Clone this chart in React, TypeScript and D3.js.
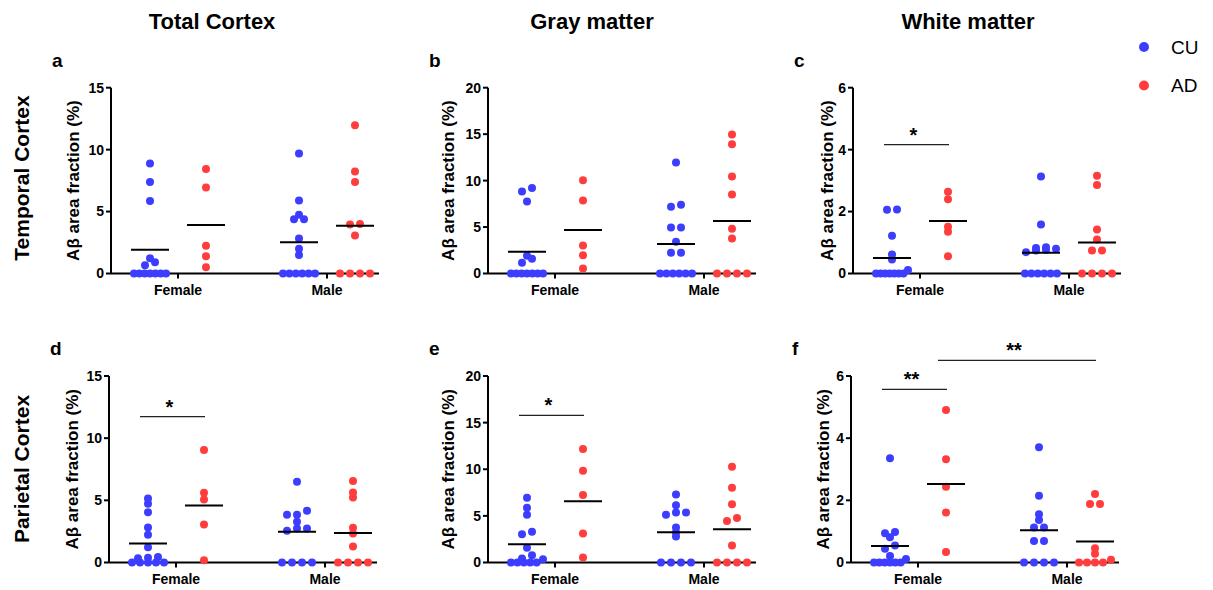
import React from "react";
import * as d3 from "d3";

const groups = ["Female", "Male"];
const conditions = ["CU", "AD"];
const conditionColors = ["#3d3dff", "#ff3d3d"];
const columnTitles = ["Total Cortex", "Gray matter", "White matter"];
const rowTitles = ["Temporal Cortex", "Parietal Cortex"];

// a: temporal, total cortex
const aFemaleCU = [8.88, 7.38, 5.85, 1.23, 0.91, 0.67, 0, 0, 0, 0, 0, 0, 0];
const aFemaleAD = [8.43, 6.95, 2.25, 1.4, 0.51];
const aMaleCU = [9.69, 5.9, 4.75, 4.37, 4.37, 2.82, 1.99, 1.5, 0, 0, 0, 0, 0, 0];
const aMaleAD = [11.97, 8.24, 7.38, 4.0, 3.95, 3.06, 0, 0, 0, 0];

// b: temporal, gray matter
const bFemaleCU = [9.19, 8.83, 7.76, 1.9, 1.58, 1.15, 0, 0, 0, 0, 0, 0, 0];
const bFemaleAD = [10.05, 7.86, 3.02, 1.97, 0.54];
const bMaleCU = [11.96, 7.4, 7.18, 4.96, 4.96, 3.41, 2.23, 2.23, 0, 0, 0, 0, 0, 0];
const bMaleAD = [14.97, 13.9, 10.45, 8.51, 4.81, 3.77, 0, 0, 0, 0];

// c: temporal, white matter
const cFemaleCU = [2.07, 2.06, 1.22, 0.61, 0.45, 0.11, 0, 0, 0, 0, 0, 0, 0];
const cFemaleAD = [2.64, 2.4, 1.51, 1.35, 0.56];
const cMaleCU = [3.13, 1.58, 0.85, 0.82, 0.8, 0.77, 0.74, 0.69, 0, 0, 0, 0, 0, 0];
const cMaleAD = [3.16, 2.86, 1.42, 1.1, 0.74, 0.74, 0, 0, 0, 0];

// d: parietal, total cortex
const dFemaleCU = [5.15, 4.72, 4.05, 2.82, 2.23, 1.23, 0.45, 0.38, 0.35, 0, 0, 0, 0, 0];
const dFemaleAD = [9.04, 5.61, 5.07, 3.06, 0.19];
const dMaleCU = [6.49, 4.16, 3.84, 3.84, 3.27, 2.74, 2.74, 2.55, 0, 0, 0, 0];
const dMaleAD = [6.55, 5.63, 5.23, 2.79, 2.33, 1.29, 0, 0, 0, 0];

// e: parietal, gray matter
const eFemaleCU = [6.94, 5.87, 5.12, 3.29, 3.04, 1.57, 0.79, 0.43, 0.36, 0, 0, 0, 0, 0];
const eFemaleAD = [12.16, 9.84, 7.23, 3.11, 0.54];
const eMaleCU = [7.3, 6.15, 5.37, 5.37, 5.12, 3.76, 3.22, 2.79, 0, 0, 0, 0];
const eMaleAD = [10.27, 8.01, 6.26, 4.76, 4.44, 1.82, 0, 0, 0, 0];

// f: parietal, white matter
const fFemaleCU = [3.35, 0.98, 0.94, 0.81, 0.55, 0.44, 0.21, 0.11, 0, 0, 0, 0, 0, 0];
const fFemaleAD = [4.91, 3.32, 2.44, 1.61, 0.34];
const fMaleCU = [3.71, 2.15, 1.55, 1.37, 1.13, 1.13, 0.69, 0.69, 0, 0, 0, 0];
const fMaleAD = [2.2, 1.88, 1.88, 0.46, 0.28, 0.09, 0, 0, 0, 0];

const ticks15 = [0, 5, 10, 15];
const ticks20 = [0, 5, 10, 15, 20];
const ticks6 = [0, 2, 4, 6];

const font = "Arial, 'Liberation Sans', Helvetica, sans-serif";

type Sig = { from: [string, string]; to: [string, string]; value: number; label: string };

const panels = [
  { letter: "a", left: 111, zeroY: 273.5, topY: 87.7, ticks: ticks15, labelGap: 38,
    data: [aFemaleCU, aFemaleAD, aMaleCU, aMaleAD], sig: [] as Sig[] },
  { letter: "b", left: 488, zeroY: 273.5, topY: 87.7, ticks: ticks20, labelGap: 40,
    data: [bFemaleCU, bFemaleAD, bMaleCU, bMaleAD], sig: [] as Sig[] },
  { letter: "c", left: 853, zeroY: 273.5, topY: 87.7, ticks: ticks6, labelGap: 26,
    data: [cFemaleCU, cFemaleAD, cMaleCU, cMaleAD],
    sig: [{ from: ["Female", "CU"], to: ["Female", "AD"], value: 4.16, label: "*" }] as Sig[] },
  { letter: "d", left: 109, zeroY: 562.5, topY: 376, ticks: ticks15, labelGap: 37,
    data: [dFemaleCU, dFemaleAD, dMaleCU, dMaleAD],
    sig: [{ from: ["Female", "CU"], to: ["Female", "AD"], value: 11.73, label: "*" }] as Sig[] },
  { letter: "e", left: 488, zeroY: 562.5, topY: 376, ticks: ticks20, labelGap: 40,
    data: [eFemaleCU, eFemaleAD, eMaleCU, eMaleAD],
    sig: [{ from: ["Female", "CU"], to: ["Female", "AD"], value: 15.78, label: "*" }] as Sig[] },
  { letter: "f", left: 851, zeroY: 562.5, topY: 376, ticks: ticks6, labelGap: 28,
    data: [fFemaleCU, fFemaleAD, fMaleCU, fMaleAD],
    sig: [
      { from: ["Female", "CU"], to: ["Female", "AD"], value: 5.57, label: "**" },
      { from: ["Female", "AD"], to: ["Male", "AD"], value: 6.5, label: "**" },
    ] as Sig[] },
];

// arrange dots of similar value in horizontal rows, like a scatter dot plot
function swarm(values: number[], y: (v: number) => number) {
  const sorted = [...values].sort((a, b) => a - b);
  const rows: number[][] = [];
  let row: number[] = [];
  let startY = 0;
  for (const v of sorted) {
    const py = y(v);
    if (row.length && Math.abs(py - startY) < 4) row.push(v);
    else {
      if (row.length) rows.push(row);
      row = [v];
      startY = py;
    }
  }
  if (row.length) rows.push(row);
  const out: { v: number; dx: number }[] = [];
  rows.forEach((r) => {
    const k = r.length;
    const step = k > 1 ? Math.min(10, 32 / (k - 1)) : 0;
    r.forEach((v, j) => out.push({ v, dx: (j - (k - 1) / 2) * step }));
  });
  return out;
}

function Panel({ p }: { p: (typeof panels)[number] }) {
  const max = p.ticks[p.ticks.length - 1];
  const y = d3.scaleLinear().domain([0, max]).range([p.zeroY, p.topY]);
  const xGroup = d3.scalePoint().domain(groups).range([p.left + 67, p.left + 216]);
  const xCond = d3.scalePoint().domain(conditions).range([-28, 28]);
  const right = p.left + 268;
  const pos = (g: string, c: string) => (xGroup(g) as number) + (xCond(c) as number);

  const sets = groups.flatMap((g, gi) =>
    conditions.map((c, ci) => ({ g, c, ci, values: p.data[gi * 2 + ci] }))
  );

  return (
    <g>
      <text x={p.left - 59} y={p.topY - 21} fontSize={19} fontWeight="bold" fontFamily={font}>
        {p.letter}
      </text>
      <line x1={p.left} x2={p.left} y1={p.topY} y2={p.zeroY} stroke="#000" strokeWidth={2} />
      <line x1={p.left} x2={right} y1={p.zeroY} y2={p.zeroY} stroke="#000" strokeWidth={2} />
      {p.ticks.map((t) => (
        <g key={t}>
          <line x1={p.left - 5} x2={p.left} y1={y(t)} y2={y(t)} stroke="#000" strokeWidth={2} />
          <text x={p.left - 7} y={y(t)} dy="0.35em" textAnchor="end" fontSize={14}
            fontWeight="bold" fontFamily={font}>{t}</text>
        </g>
      ))}
      {groups.map((g) => (
        <g key={g}>
          <line x1={xGroup(g)} x2={xGroup(g)} y1={p.zeroY} y2={p.zeroY + 5} stroke="#000" strokeWidth={2} />
          <text x={xGroup(g)} y={p.zeroY + 21} textAnchor="middle" fontSize={14}
            fontWeight="bold" fontFamily={font}>{g}</text>
        </g>
      ))}
      <text transform={`translate(${p.left - p.labelGap},${(p.zeroY + p.topY) / 2}) rotate(-90)`}
        textAnchor="middle" dy="0.35em" fontSize={17} fontWeight="bold" fontFamily={font}>
        Aβ area fraction (%)
      </text>
      {sets.map((s) =>
        swarm(s.values, y).map((d, i) => (
          <circle key={`${s.g}${s.c}${i}`} cx={pos(s.g, s.c) + d.dx} cy={y(d.v)} r={4}
            fill={conditionColors[s.ci]} />
        ))
      )}
      {sets.map((s) => {
        const m = d3.mean(s.values) as number;
        const cx = pos(s.g, s.c);
        return (
          <line key={`m${s.g}${s.c}`} x1={cx - 19} x2={cx + 19} y1={y(m)} y2={y(m)}
            stroke="#000" strokeWidth={2} />
        );
      })}
      {p.sig.map((s, i) => {
        const x1 = pos(s.from[0], s.from[1]) - 8;
        const x2 = pos(s.to[0], s.to[1]) + 1;
        const yy = y(s.value);
        return (
          <g key={i}>
            <line x1={x1} x2={x2} y1={yy} y2={yy} stroke="#222" strokeWidth={1.2} />
            <text x={(x1 + x2) / 2 - 3} y={yy - 3} textAnchor="middle" fontSize={20}
              fontWeight="bold" fontFamily={font}>{s.label}</text>
          </g>
        );
      })}
    </g>
  );
}

export default function App() {
  const colX = [212, 592, 968];
  const rowY = [178, 469];
  return (
    <svg width={1213} height={590} style={{ position: "absolute", left: 0, top: 0, background: "#fff" }}>
      {columnTitles.map((t, i) => (
        <text key={t} x={colX[i]} y={29} textAnchor="middle" fontSize={22} fontWeight="bold"
          fontFamily={font}>{t}</text>
      ))}
      {rowTitles.map((t, i) => (
        <text key={t} transform={`translate(22,${rowY[i]}) rotate(-90)`} textAnchor="middle"
          dy="0.35em" fontSize={21} fontWeight="bold" fontFamily={font}>{t}</text>
      ))}
      {panels.map((p) => (
        <Panel key={p.letter} p={p} />
      ))}
      {conditions.map((c, i) => (
        <g key={c}>
          <circle cx={1144} cy={47 + i * 38.5} r={5} fill={conditionColors[i]} />
          <text x={1171} y={47 + i * 38.5} dy="0.35em" fontSize={19} fontFamily={font}>{c}</text>
        </g>
      ))}
    </svg>
  );
}
